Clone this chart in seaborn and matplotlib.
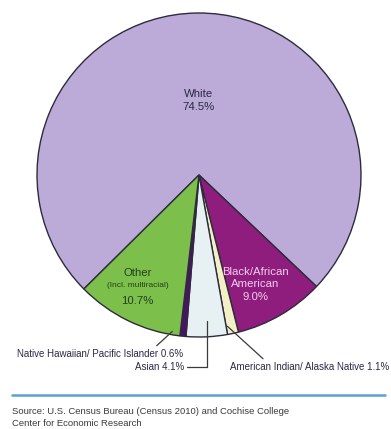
import matplotlib
matplotlib.use("Agg")
import matplotlib.pyplot as plt
import numpy as np
import seaborn as sns

sns.set_theme(style="white")
plt.rcParams["font.family"] = ["Liberation Sans", "DejaVu Sans"]

# Population by race, Cochise County (Census 2010), clockwise order
groups = ["White", "Black/African American", "American Indian/ Alaska Native",
          "Asian", "Native Hawaiian/ Pacific Islander", "Other"]
shares = [74.5, 9.0, 1.1, 4.1, 0.6, 10.7]
colors = ["#bcaad9", "#8f1d7d", "#f3f0c6", "#e7f1f3", "#4a1466", "#7dbf4b"]

W, H = 391, 429
fig = plt.figure(figsize=(W / 100, H / 100), dpi=100)
fig.patch.set_facecolor("white")

cx, cy, r = 199, 175, 162
ax = fig.add_axes([(cx - r) / W, (H - cy - r) / H, 2 * r / W, 2 * r / H])
wedges, _ = ax.pie(shares, colors=colors, startangle=224.7, counterclock=False,
                   radius=1.0,
                   wedgeprops=dict(edgecolor="#2e2b3c", linewidth=1.0))
ax.set_xlim(-1.0, 1.0)
ax.set_ylim(-1.0, 1.0)
ax.set_aspect("equal")
ax.axis("off")


def mid_point(w, frac, ang_shift=0.0):
    ang = np.deg2rad((w.theta1 + w.theta2) / 2 + ang_shift)
    return frac * np.cos(ang), frac * np.sin(ang)


big = 8.2
small = 7.0

# Labels inside the large slices
x, y = mid_point(wedges[0], 0.46)
ax.text(x, y, f"White\n{shares[0]:.1f}%", ha="center", va="center",
        fontsize=big, color="#2a2946", linespacing=1.3)

x, y = mid_point(wedges[1], 0.76, -3)
ax.text(x, y, f"Black/African\nAmerican\n{shares[1]:.1f}%", ha="center", va="center",
        fontsize=big, color="#f2cdee", linespacing=1.3)

x, y = mid_point(wedges[5], 0.78, -3)
ax.text(x, y + 0.08, "Other", ha="center", va="center", fontsize=big, color="#22401a")
ax.text(x, y + 0.0, "(Incl. multiracial)", ha="center", va="center", fontsize=6.0,
        color="#22401a")
ax.text(x, y - 0.093, f"{shares[5]:.1f}%", ha="center", va="center", fontsize=big,
        color="#22401a")

# Callouts for the thin slices
line = dict(arrowstyle="-", color="#3a3a3a", lw=0.9, shrinkA=0, shrinkB=0)

ax.annotate(f"{groups[4]} {shares[4]:.1f}%", xy=mid_point(wedges[4], 0.98, -4),
            xycoords="data", xytext=(183, H - 354), textcoords="figure pixels",
            ha="right", va="center", fontsize=small, color="#2a2946",
            arrowprops=dict(**line, relpos=(0.82, 1.0)))

ax.annotate(f"{groups[3]} {shares[3]:.1f}%", xy=mid_point(wedges[3], 0.90, 0.5),
            xycoords="data", xytext=(184, H - 367), textcoords="figure pixels",
            ha="right", va="center", fontsize=small, color="#2a2946",
            arrowprops=dict(**line, relpos=(1.0, 0.5),
                            connectionstyle="angle,angleA=0,angleB=90,rad=0"))

ax.annotate(f"{groups[2]} {shares[2]:.1f}%", xy=mid_point(wedges[2], 0.95, -1.5),
            xycoords="data", xytext=(230, H - 367), textcoords="figure pixels",
            ha="left", va="center", fontsize=small, color="#2a2946",
            arrowprops=dict(**line, relpos=(0.23, 1.0)))

# Rule and source note
fig.add_artist(plt.Line2D([12 / W, 385 / W], [1 - 395 / H, 1 - 395 / H],
                          color="#5b9fd6", lw=1.8))
fig.text(12 / W, 1 - 412 / H, "Source: U.S. Census Bureau (Census 2010) and Cochise College",
         ha="left", va="center", fontsize=6.8, color="#3a3a3a")
fig.text(12 / W, 1 - 423 / H, "Center for Economic Research",
         ha="left", va="center", fontsize=6.8, color="#3a3a3a")

fig.savefig("out.png", dpi=100, facecolor="white")
